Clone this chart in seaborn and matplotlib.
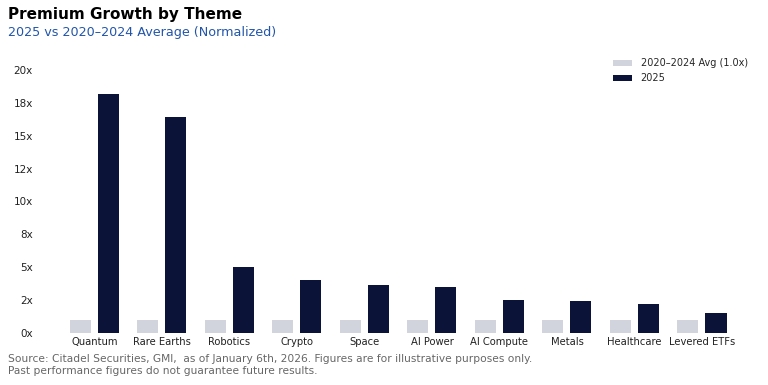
import pandas as pd
import matplotlib.pyplot as plt
import seaborn as sns

# -----------------------------
# DATA
# -----------------------------
themes = ["Quantum", "Rare Earths", "Robotics", "Crypto", "Space",
          "AI Power", "AI Compute", "Metals", "Healthcare", "Levered ETFs"]
baseline = [1.0, 1.0, 1.0, 1.0, 1.0, 1.0, 1.0, 1.0, 1.0, 1.0]
growth_2025 = [18.2, 16.4, 5.0, 4.0, 3.65, 3.5, 2.5, 2.4, 2.2, 1.5]
series_names = ["2020\u20132024 Avg (1.0x)", "2025"]
y_ticks = [0, 2.5, 5, 7.5, 10, 12.5, 15, 17.5, 20]

df = pd.DataFrame({
    "theme": themes * 2,
    "value": baseline + growth_2025,
    "series": [series_names[0]] * len(themes) + [series_names[1]] * len(themes),
})

# -----------------------------
# PLOT
# -----------------------------
sns.set_style("white")
plt.rcParams["font.family"] = ["DejaVu Sans"]

fig = plt.figure(figsize=(7.68, 3.85), dpi=100)
ax = fig.add_axes([0.079, 0.136, 0.879, 0.682])

sns.barplot(
    data=df, x="theme", y="value", hue="series",
    hue_order=series_names,
    palette=["#d1d4dc", "#0b1339"], saturation=1,
    width=0.83, gap=0.25, linewidth=0, ax=ax,
)

ax.set_ylim(0, 20)
ax.set_xlim(-0.5, len(themes) - 0.5)
ax.set_yticks(y_ticks)
ax.set_yticklabels([f"{v:.0f}x" for v in y_ticks])
ax.set_xlabel("")
ax.set_ylabel("")
ax.tick_params(axis="y", length=0, pad=20, labelsize=7.5, colors="#222222")
ax.tick_params(axis="x", length=0, pad=3, labelsize=7.2, colors="#222222")
for s in ax.spines.values():
    s.set_visible(False)

ax.legend(
    loc="upper right", bbox_to_anchor=(0.985, 0.872),
    bbox_transform=fig.transFigure, frameon=False,
    fontsize=7, handlelength=1.9, handleheight=0.55,
    handletextpad=0.9, labelspacing=0.55,
)

# -----------------------------
# TITLES / NOTES
# -----------------------------
fig.text(0.01, 0.963, "Premium Growth by Theme", fontsize=11,
         fontweight="bold", color="#000000", va="center")
fig.text(0.01, 0.915, "2025 vs 2020\u20132024 Average (Normalized)",
         fontsize=9.2, color="#2255aa", va="center")
fig.text(0.01, 0.052,
         "Source: Citadel Securities, GMI,  as of January 6th, 2026. "
         "Figures are for illustrative purposes only.\n"
         "Past performance figures do not guarantee future results.",
         fontsize=7.7, color="#666666", va="center", linespacing=1.3)

fig.savefig("out.png", dpi=100)
